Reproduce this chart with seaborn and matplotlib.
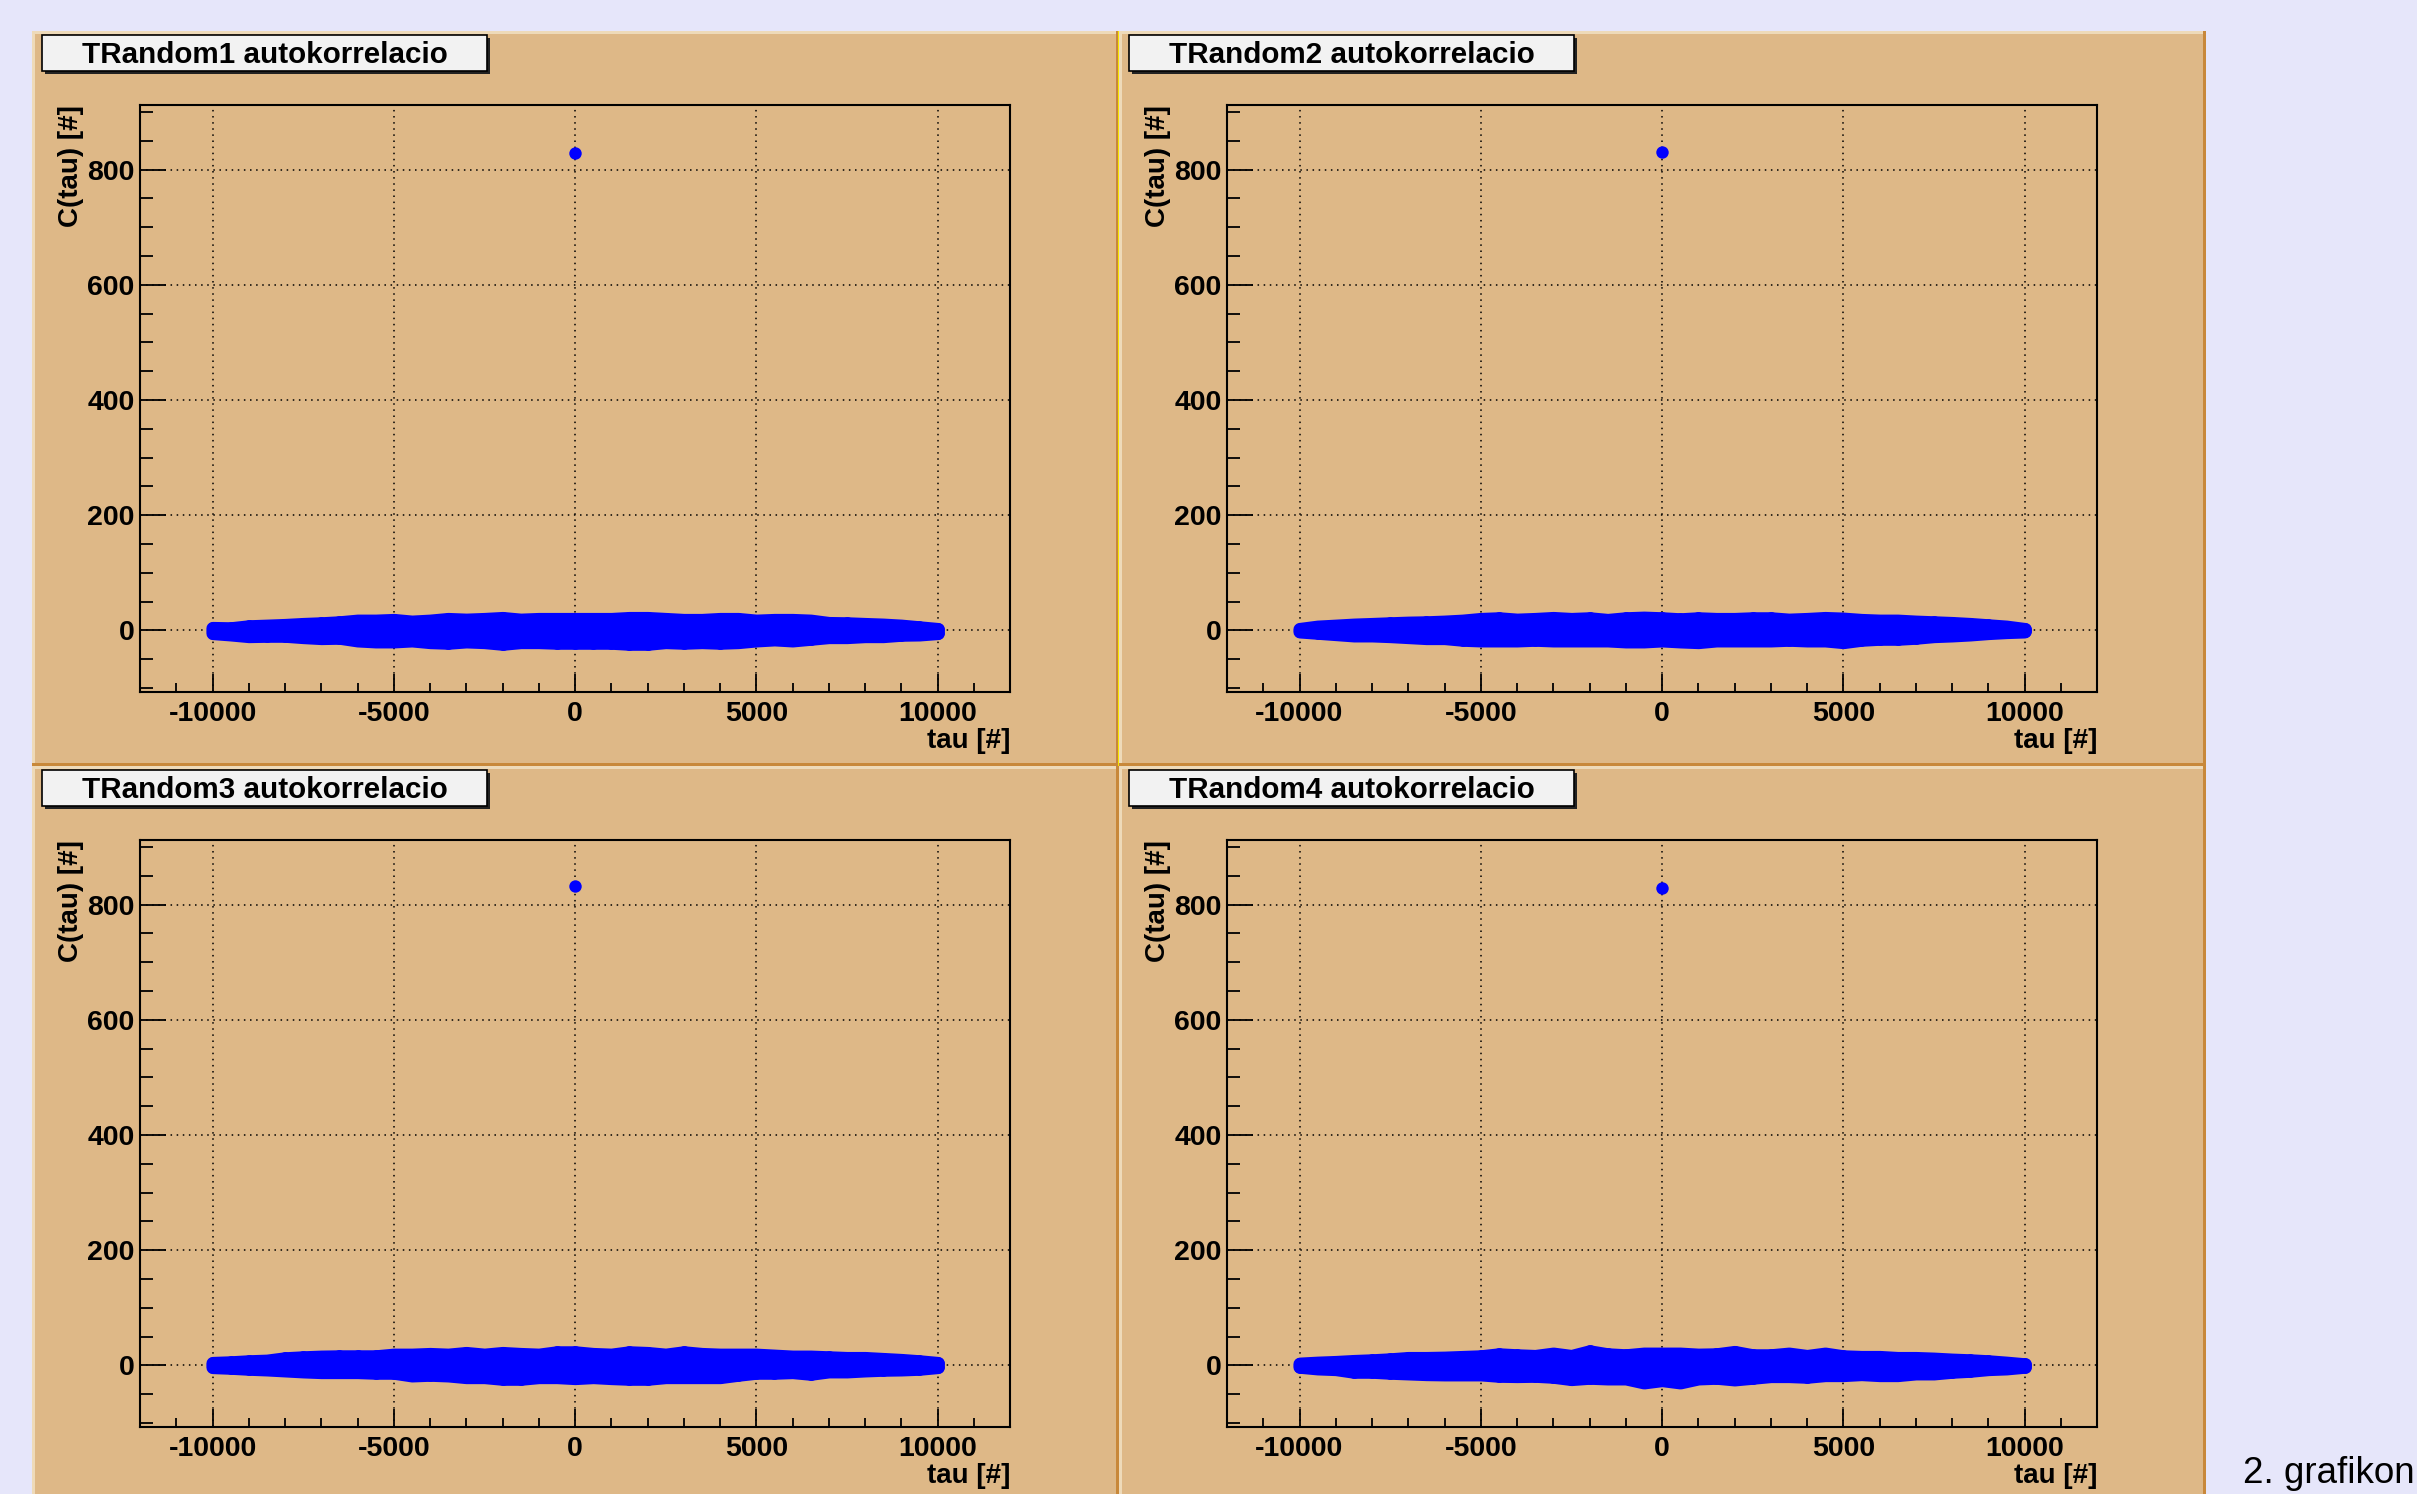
import matplotlib
matplotlib.use('Agg')
import matplotlib.pyplot as plt
from matplotlib.patches import Rectangle
from matplotlib.ticker import MultipleLocator
import numpy as np
import pandas as pd
import seaborn as sns

sns.set_theme(style='ticks')
plt.rcParams['font.family'] = ['Liberation Sans', 'DejaVu Sans']
plt.rcParams['axes.unicode_minus'] = False

tau = list(range(-10000, 10001, 500))

titles = ['TRandom1 autokorrelacio', 'TRandom2 autokorrelacio',
          'TRandom3 autokorrelacio', 'TRandom4 autokorrelacio']

# the lone point at tau = 0
peak_tau = [0, 0, 0, 0]
peak_c = [829, 830, 833, 829]

# upper / lower envelope of the C(tau) cloud, per generator
upper1 = [4.1, 3.5, 7.0, 8.1, 9.3, 11.0, 12.2, 13.9, 16.8, 16.8, 18.0, 15.1, 16.8, 19.7,
          18.5, 19.7, 21.4, 18.5, 19.7, 19.7, 19.7, 19.7, 19.7, 21.4, 21.4, 19.7, 18.0,
          18.0, 19.7, 19.7, 16.8, 18.0, 18.0, 16.8, 12.7, 12.2, 11.0, 9.9, 8.1, 5.2, 2.3]
lower1 = [-4.6, -7.0, -9.9, -9.3, -9.3, -11.6, -13.3, -12.7, -17.4, -19.1, -19.1, -17.4,
          -20.3, -21.4, -19.1, -20.3, -23.2, -20.3, -20.3, -21.4, -21.4, -21.4, -21.4,
          -23.2, -23.2, -20.3, -21.4, -20.3, -21.4, -20.3, -17.4, -15.6, -17.4, -14.5,
          -11.6, -11.6, -9.9, -9.9, -7.5, -7.0, -4.6]

upper2 = [2.3, 6.4, 8.1, 9.9, 11.0, 12.2, 13.3, 13.9, 15.1, 16.8, 19.7, 20.9, 18.5, 19.7,
          21.4, 19.7, 20.9, 18.0, 20.9, 22.0, 20.9, 19.1, 20.9, 19.7, 19.7, 20.9, 20.9,
          18.5, 19.7, 21.4, 20.3, 18.0, 16.8, 16.8, 15.1, 13.9, 12.7, 11.0, 8.7, 6.4, 2.3]
lower2 = [-1.8, -4.1, -6.4, -8.7, -8.7, -9.9, -11.6, -13.3, -13.3, -16.2, -17.4, -17.4,
          -17.4, -16.2, -17.4, -17.4, -17.4, -17.4, -19.1, -19.1, -17.4, -19.1, -20.3,
          -17.4, -17.4, -17.4, -17.4, -16.2, -17.4, -17.4, -20.3, -16.2, -14.5, -14.5,
          -12.7, -9.9, -8.7, -7.0, -4.6, -2.9, -1.8]

upper3 = [4.1, 5.2, 7.0, 8.1, 12.2, 13.9, 15.1, 15.6, 15.6, 15.6, 18.5, 18.5, 19.7, 18.5,
          21.4, 18.5, 21.4, 19.7, 18.5, 22.6, 22.6, 19.7, 18.5, 22.6, 21.4, 18.5, 22.6,
          19.7, 18.5, 18.5, 18.5, 16.8, 15.1, 15.1, 13.9, 12.7, 12.7, 11.0, 9.3, 7.0, 4.1]
lower3 = [-2.9, -4.1, -5.8, -7.0, -8.7, -10.4, -11.6, -11.6, -11.6, -12.7, -12.7, -17.4,
          -16.2, -17.4, -20.3, -20.3, -23.2, -23.2, -20.3, -20.3, -22.0, -20.3, -22.0,
          -23.2, -23.2, -20.3, -20.3, -20.3, -20.3, -16.2, -12.7, -12.7, -11.6, -14.5,
          -10.4, -10.4, -8.7, -7.5, -7.0, -5.8, -2.9]

upper4 = [2.9, 4.6, 5.8, 7.5, 8.7, 10.4, 12.7, 12.7, 13.3, 14.5, 15.6, 19.1, 17.4, 16.2,
          20.3, 16.2, 24.3, 19.1, 17.4, 20.3, 20.3, 20.3, 18.5, 19.1, 23.2, 17.4, 17.4,
          20.3, 16.2, 20.3, 15.6, 14.5, 14.5, 12.7, 12.7, 11.6, 9.9, 8.7, 7.0, 4.6, 1.8]
lower4 = [-2.3, -5.2, -6.4, -11.0, -11.0, -12.7, -13.9, -15.1, -15.6, -15.6, -15.6, -18.0,
          -18.5, -18.0, -19.7, -23.7, -21.4, -22.6, -22.6, -29.5, -25.5, -29.5, -22.6,
          -21.4, -24.3, -21.4, -18.5, -18.5, -19.7, -16.8, -16.8, -15.1, -16.8, -16.8,
          -13.9, -13.9, -11.0, -9.3, -6.4, -5.2, -2.3]

uppers = [upper1, upper2, upper3, upper4]
lowers = [lower1, lower2, lower3, lower4]

W, H = 2417, 1494
BG = '#E6E6FA'
PAD = '#DEB887'
LIGHT = '#EEDAB9'
DARK = '#C8883A'
BLUE = '#0000FF'

fig = plt.figure(figsize=(W / 100, H / 100), dpi=100)
fig.patch.set_facecolor(BG)


def rect_px(x0, y0, w, h, **kw):
    r = Rectangle((x0 / W, 1 - (y0 + h) / H), w / W, h / H,
                  transform=fig.transFigure, **kw)
    fig.patches.append(r)
    return r


PW, PH = 1087, 735
for i in range(4):
    row, col = divmod(i, 2)
    px0 = 32 + col * PW
    py0 = 31 + row * PH

    # pad with bevel border
    rect_px(px0, py0, PW, PH, facecolor=PAD, edgecolor='none', zorder=0.5)
    rect_px(px0, py0, PW, 3, facecolor=LIGHT, edgecolor='none', zorder=1)
    rect_px(px0, py0, 3, PH, facecolor=LIGHT, edgecolor='none', zorder=1)
    rect_px(px0 + PW - 3, py0, 3, PH, facecolor=DARK, edgecolor='none', zorder=1)
    rect_px(px0, py0 + PH - 3, PW, 3, facecolor=DARK, edgecolor='none', zorder=1)
    if i == 0:
        rect_px(px0 + PW - 1.5, py0, 1.5, PH, facecolor='#F5E500', edgecolor='none', zorder=1.5)

    ax = fig.add_axes([(px0 + 108) / W, 1 - (py0 + 74 + 587) / H, 870 / W, 587 / H])
    ax.set_zorder(3)
    ax.set_facecolor(PAD)

    env = pd.DataFrame({'tau': tau + tau, 'c': uppers[i] + lowers[i]})
    peak = pd.DataFrame({'tau': [peak_tau[i]], 'c': [peak_c[i]]})

    ax.fill_between(tau, lowers[i], uppers[i], facecolor=BLUE, edgecolor=BLUE,
                    linewidth=9.5, joinstyle='round', zorder=3)
    sns.scatterplot(data=env, x='tau', y='c', ax=ax, color=BLUE, s=85,
                    linewidth=0, legend=False, zorder=4)
    sns.scatterplot(data=peak, x='tau', y='c', ax=ax, color=BLUE, s=80,
                    linewidth=0, legend=False, zorder=4)

    ax.set_xlim(-12000, 12000)
    ax.set_ylim(-107, 912)
    ax.set_xlabel('')
    ax.set_ylabel('')
    ax.xaxis.set_major_locator(MultipleLocator(5000))
    ax.xaxis.set_minor_locator(MultipleLocator(1000))
    ax.yaxis.set_major_locator(MultipleLocator(200))
    ax.yaxis.set_minor_locator(MultipleLocator(50))
    ax.set_axisbelow(True)
    ax.grid(True, which='major', color='black', linestyle=(0, (1, 3)), linewidth=1.1)

    for sp in ax.spines.values():
        sp.set_visible(True)
        sp.set_color('black')
        sp.set_linewidth(1.5)

    ax.tick_params(which='both', direction='in', top=False, right=False,
                   color='black', width=1.3, labelsize=20.5)
    ax.tick_params(axis='x', which='major', length=12.7, pad=6.5)
    ax.tick_params(axis='x', which='minor', length=6.3)
    ax.tick_params(axis='y', which='major', length=18.8, pad=4)
    ax.tick_params(axis='y', which='minor', length=9.4)
    for lab in ax.get_xticklabels() + ax.get_yticklabels():
        lab.set_fontweight('bold')
        lab.set_color('black')

    ax.text(1.0, -49 / 587, 'tau [#]', transform=ax.transAxes, ha='right', va='center',
            fontsize=20, fontweight='bold', color='black')
    ax.text(-69 / 870, 1.0, 'C(tau) [#]', transform=ax.transAxes, rotation=90,
            ha='center', va='top', fontsize=20, fontweight='bold', color='black')

    # title box with shadow
    rect_px(px0 + 13, py0 + 7, 445, 36, facecolor='#222222', edgecolor='none', zorder=5)
    rect_px(px0 + 10, py0 + 4, 445, 36, facecolor='#F2F2F2', edgecolor='black',
            linewidth=1.2, zorder=6)
    fig.text((px0 + 10 + 222.5) / W, 1 - (py0 + 24) / H, titles[i], ha='center',
             va='center', fontsize=21.3, fontweight='bold', color='black', zorder=7)

fig.text(2243 / W, 1 - 1483 / H, '2. grafikon', ha='left', va='baseline',
         fontsize=26.5, color='black')

fig.savefig('out.png', dpi=100, facecolor=BG)
